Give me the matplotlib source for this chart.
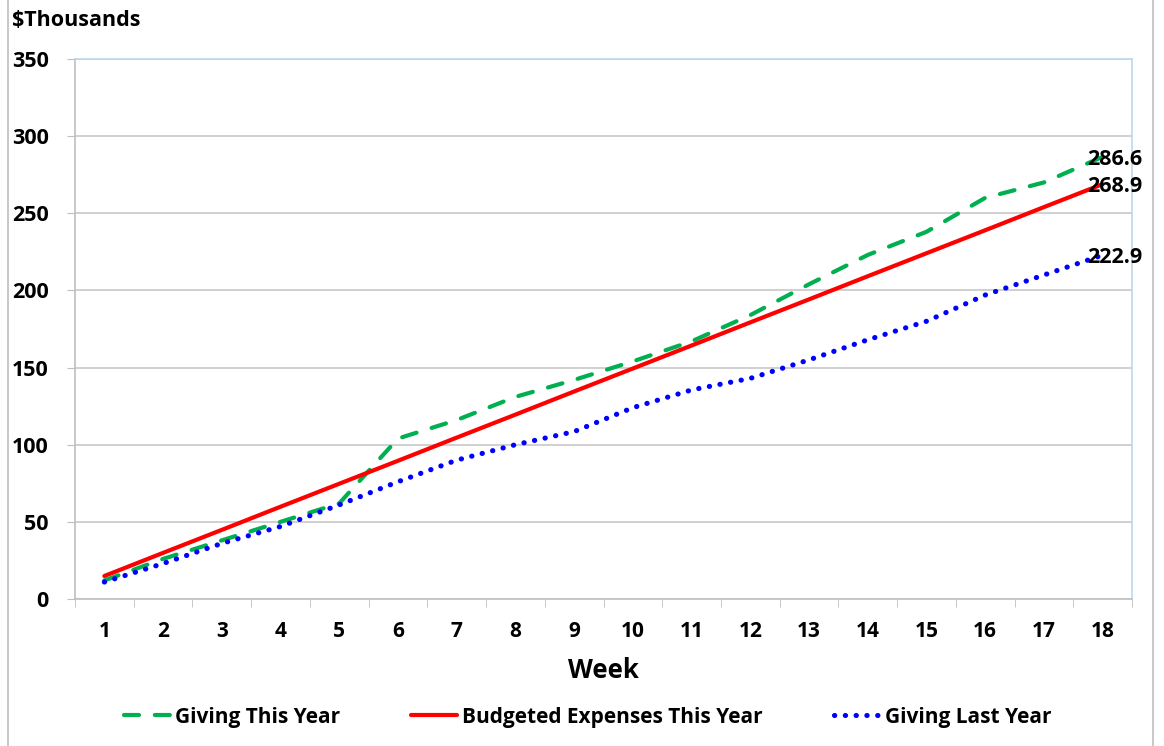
import matplotlib
matplotlib.use("Agg")
import matplotlib.pyplot as plt
from matplotlib.lines import Line2D

weeks = [str(i) for i in range(1, 19)]
giving_this_year = [12, 26, 38, 50, 62, 104, 116, 131, 142, 154, 167, 184, 204, 223, 238, 260, 270, 286.6]
budgeted_expenses = [14.9, 29.9, 44.8, 59.8, 74.7, 89.6, 104.6, 119.5, 134.5, 149.4,
                     164.3, 179.3, 194.2, 209.2, 224.1, 239.0, 254.0, 268.9]
giving_last_year = [11, 23, 36, 47, 61, 76, 90, 100, 108.5, 124, 135.5, 143, 155, 168, 180, 197, 210, 222.9]
yticks = [0, 50, 100, 150, 200, 250, 300, 350]

plt.rcParams['font.family'] = ['Open Sans', 'DejaVu Sans']

fig = plt.figure(figsize=(11.64, 7.46), dpi=100)
ax = fig.add_axes([75/1164, 1-599/746, (1132-75)/1164, (599-59)/746])

x = list(range(len(weeks)))
green = '#00B050'
red = '#FF0000'
blue = '#0000FF'

l1, = ax.plot(x, giving_this_year, color=green, lw=3, linestyle=(0, (3.6, 3.8)), dash_capstyle='round', zorder=3)
l2, = ax.plot(x, budgeted_expenses, color=red, lw=3, solid_capstyle='round', zorder=4)
l3, = ax.plot(x, giving_last_year, color=blue, lw=3.7, linestyle=(0, (0.05, 2.05)), dash_capstyle='round', zorder=3)

for series in (giving_this_year, budgeted_expenses, giving_last_year):
    ax.annotate(f"{series[-1]:.1f}", xy=(x[-1], series[-1]), xytext=(-11, -2),
                textcoords='offset points', ha='left', va='center',
                fontsize=15.5, fontweight='bold', color='black', zorder=5)

ax.set_xlim(-0.5, len(weeks) - 0.5)
ax.set_ylim(0, 350)
ax.set_yticks(yticks)
ax.set_yticklabels([str(v) for v in yticks], fontsize=15.5, fontweight='bold')
ax.set_xticks(x)
ax.set_xticklabels(weeks, fontsize=15, fontweight='bold')
ax.set_xticks([i - 0.5 for i in range(len(weeks) + 1)], minor=True)
ax.tick_params(axis='x', which='major', length=0, pad=16)
ax.tick_params(axis='x', which='minor', length=6, color='#BFBFBF', direction='out')
ax.tick_params(axis='y', length=6, color='#BFBFBF', direction='out', pad=13)

ax.grid(axis='y', color='#C8C8C8', lw=1.2, zorder=0)
ax.set_axisbelow(True)
for side in ('left', 'bottom'):
    ax.spines[side].set_color('#BFBFBF')
    ax.spines[side].set_linewidth(1.2)
for side in ('top', 'right'):
    ax.spines[side].set_color('#BDD7EE')
    ax.spines[side].set_linewidth(1.2)

ax.set_xlabel('Week', fontsize=18.5, fontweight='bold', labelpad=11)
fig.text(12/1164, 1-20/746, '$Thousands', fontsize=15.5, fontweight='bold', va='center', ha='left')

fig.legend([l1, l2, l3], ['Giving This Year', 'Budgeted Expenses This Year', 'Giving Last Year'],
           loc='center', bbox_to_anchor=(0.505, 1-717/746), ncol=3, frameon=False,
           prop={'size': 15, 'weight': 'bold'}, handlelength=2.2, handletextpad=0.25,
           columnspacing=3.4)

# outer chart-area border lines
fig.add_artist(Line2D([8/1164, 8/1164], [0, 1], color='#BFBFBF', lw=1.2))
fig.add_artist(Line2D([1153/1164, 1153/1164], [0, 1], color='#BFBFBF', lw=1.2))

fig.savefig('out.png', dpi=100)
